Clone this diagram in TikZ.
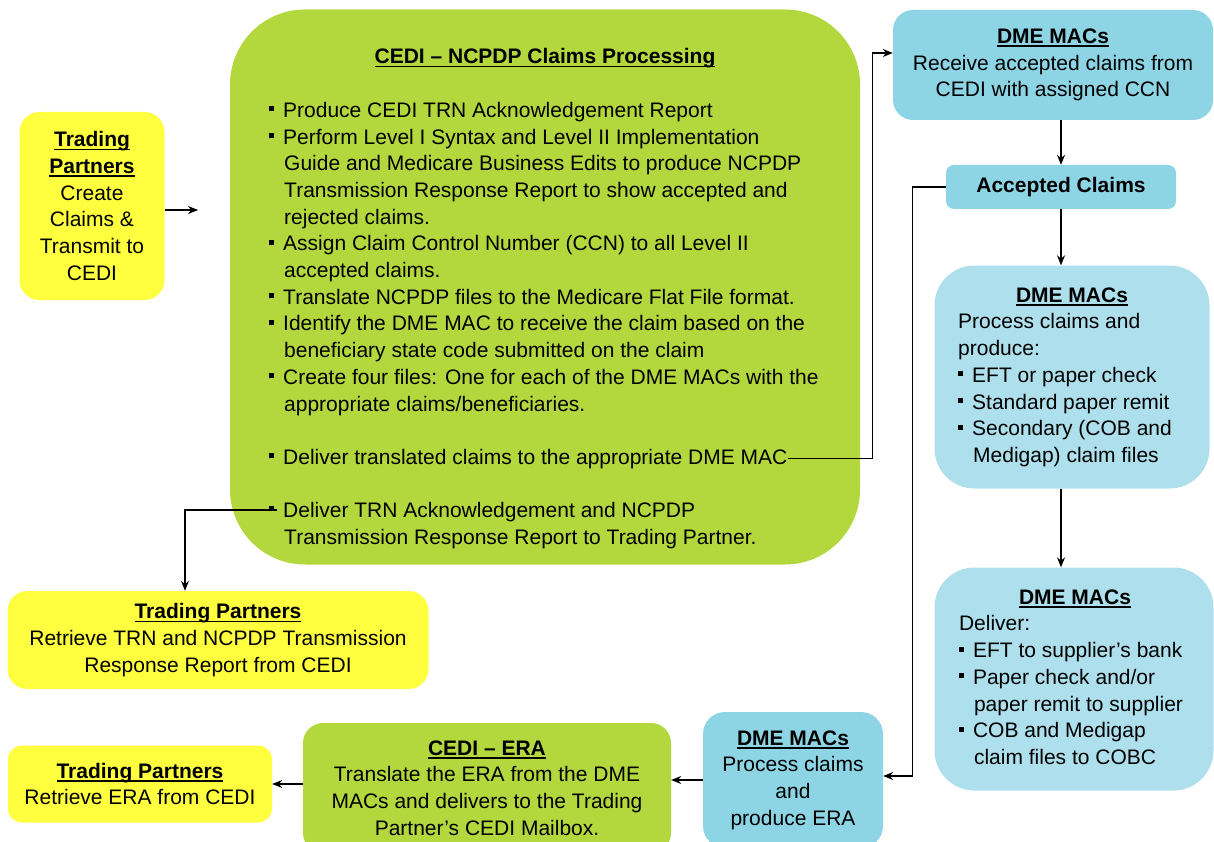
\documentclass[tikz,border=0pt]{standalone}
\usepackage{fontspec}
\setmainfont{Liberation Sans}
\usetikzlibrary{arrows.meta}
\definecolor{tpyellow}{RGB}{255,255,64}
\definecolor{cedigreen}{RGB}{179,216,62}
\definecolor{macblue}{RGB}{141,213,229}
\definecolor{maclight}{RGB}{173,224,236}
\newcommand{\sq}{\makebox[14pt][l]{\rule[6pt]{5pt}{5pt}}}
\newcommand{\ind}{\hspace*{15pt}}
\newcommand{\ttl}[1]{{\bfseries\setbox0\hbox{#1}\rlap{\rule[-3.5pt]{\wd0}{1.5pt}}\box0}}

\begin{document}
\begin{tikzpicture}[x=1pt, y=-1pt, >={Stealth[length=10pt,width=8pt]},
    every node/.style={font=\fontsize{21}{26.7}\selectfont, text=black},
    box/.style={rounded corners=20pt, align=center, inner sep=0pt},
    conn/.style={draw, line width=1.1pt, ->}]
    \useasboundingbox (0,0) rectangle (1214,842);

    % trading partner sends claims
    \node[box, fill=tpyellow, minimum width=145, minimum height=188] (tpcreate) at (92,206)
        {\ttl{Trading}\\\ttl{Partners}\\Create\\Claims \&\\Transmit to\\CEDI};
    \coordinate (cedientry) at (198,210);

    % CEDI processing
    \node[box, fill=cedigreen, rounded corners=75pt, minimum width=630, minimum height=555] (cedi) at (545,287) {};
    \node[anchor=base] (cedititle) at (545,64) {\ttl{CEDI -- NCPDP Claims Processing}};
    \node[anchor=base west, align=left, inner sep=0pt] (cedilist) at (269,411)
        {\sq Produce CEDI TRN Acknowledgement Report\\
         \sq Perform Level I Syntax and Level II Implementation\\
         \ind Guide and Medicare Business Edits to produce NCPDP\\
         \ind Transmission Response Report to show accepted and\\
         \ind rejected claims.\\
         \sq Assign Claim Control Number (CCN) to all Level II\\
         \ind accepted claims.\\
         \sq Translate NCPDP files to the Medicare Flat File format.\\
         \sq Identify the DME MAC to receive the claim based on the\\
         \ind beneficiary state code submitted on the claim\\
         \sq Create four files: One for each of the DME MACs with the\\
         \ind appropriate claims/beneficiaries.};
    \node[anchor=base west, inner sep=0pt] (delivcl) at (269,464)
        {\sq Deliver translated claims to the appropriate DME MAC};
    \node[anchor=base west, align=left, inner sep=0pt] (delivtrn) at (269,544)
        {\sq Deliver TRN Acknowledgement and NCPDP\\
         \ind Transmission Response Report to Trading Partner.};
    \coordinate (trnbul) at (277,510);

    % DME MACs column
    \node[box, fill=macblue, minimum width=320, minimum height=110] (dmerecv) at (1053,65)
        {\ttl{DME MACs}\\Receive accepted claims from\\CEDI with assigned CCN};
    \node[box, fill=macblue, rounded corners=8pt, minimum width=230, minimum height=44] (accepted) at (1061,187)
        {\textbf{Accepted Claims}};
    \node[box, fill=maclight, rounded corners=40pt, minimum width=275, minimum height=223] (dmeproc) at (1072,377)
        {\hspace*{-14pt}\begin{tabular}{@{}l@{}}
         \multicolumn{1}{@{}c@{}}{\hspace*{14pt}\ttl{DME MACs}}\\
         Process claims and\\
         produce:\\
         \sq EFT or paper check\\
         \sq Standard paper remit\\
         \sq Secondary (COB and\\
         \ind Medigap) claim files
         \end{tabular}};
    \node[box, fill=maclight, rounded corners=40pt, minimum width=279, minimum height=223] (dmedeliv) at (1074,679)
        {\hspace*{-6pt}\begin{tabular}{@{}l@{}}
         \multicolumn{1}{@{}c@{}}{\hspace*{8pt}\ttl{DME MACs}}\\
         Deliver:\\
         \sq EFT to supplier's bank\\
         \sq Paper check and/or\\
         \ind paper remit to supplier\\
         \sq COB and Medigap\\
         \ind claim files to COBC
         \end{tabular}};

    % ERA path back to trading partners
    \node[box, fill=tpyellow, minimum width=421, minimum height=98] (tpretr) at (218,640)
        {\ttl{Trading Partners}\\Retrieve TRN and NCPDP Transmission\\Response Report from CEDI};
    \node[box, fill=macblue, rounded corners=22pt, minimum width=180, minimum height=136] (dmeera) at (793,780)
        {\ttl{DME MACs}\\Process claims\\and\\produce ERA};
    \node[box, fill=cedigreen, minimum width=368, minimum height=130] (ceditra) at (487,788)
        {\ttl{CEDI -- ERA}\\Translate the ERA from the DME\\MACs and delivers to the Trading\\Partner's CEDI Mailbox.};
    \node[box, fill=tpyellow, rounded corners=14pt, minimum width=264, minimum height=77] (tpera) at (140,784)
        {\ttl{Trading Partners}\\Retrieve ERA from CEDI};

    % connectors
    \draw[conn] (tpcreate.east |- cedientry) -- (cedientry);
    \draw[conn] (delivcl.east) -- ++(85,0) |- ([yshift=12pt]dmerecv.west);
    \draw[conn] (trnbul) -| ([xshift=-33pt]tpretr.north);
    \draw[conn] (dmerecv.south -| accepted) -- (accepted.north);
    \draw[conn] (accepted.south) -- (accepted.south |- dmeproc.north);
    \draw[conn] (dmeproc.south -| accepted) -- (dmedeliv.north -| accepted);
    \draw[conn] (accepted.west) -- ++(-33,0) |- ([yshift=4pt]dmeera.east);
    \draw[conn] (dmeera.west) -- (dmeera.west -| ceditra.east);
    \draw[conn] (ceditra.west |- tpera.east) -- (tpera.east);
\end{tikzpicture}
\end{document}
